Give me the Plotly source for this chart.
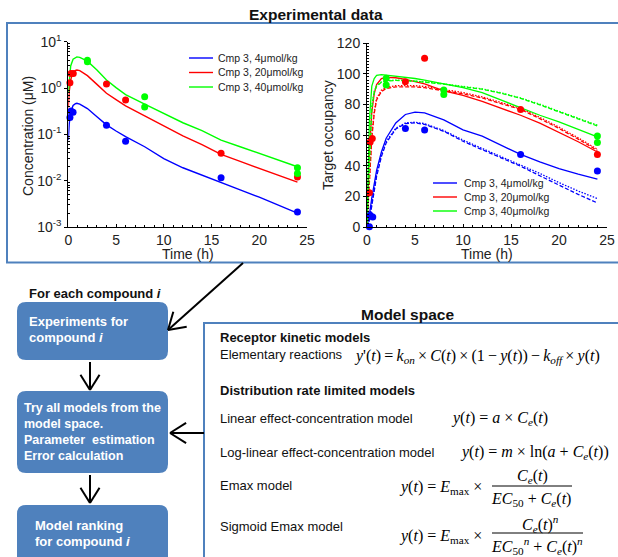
import plotly.graph_objects as go
import math

W, H = 618, 557

# ---------------- data ----------------
doses = ["Cmp 3, 4\u03bcmol/kg", "Cmp 3, 20\u03bcmol/kg", "Cmp 3, 40\u03bcmol/kg"]
colors = ["#0000ff", "#ff0000", "#00ff00"]

# Concentration observations
conc_obs_t_4 = [0.17, 0.28, 0.5, 4, 6, 16, 24]
conc_obs_4 = [0.23, 0.32, 0.30, 0.158, 0.071, 0.0115, 0.0021]
conc_obs_t_20 = [0.17, 0.28, 0.52, 4, 6, 16, 24]
conc_obs_20 = [1.3, 2.07, 2.07, 1.22, 0.55, 0.039, 0.012]
conc_obs_t_40 = [2, 2, 8, 8, 24, 24]
conc_obs_40 = [4.0, 3.7, 0.65, 0.39, 0.019, 0.0142]

# Concentration model fits
conc_fit_t = [0, 0.1, 0.25, 0.5, 0.75, 0.9, 1.2, 1.5, 2, 3, 4, 5, 6, 8, 10, 12, 14, 16, 18, 20, 22, 24]
conc_fit_4 = [0.075, 0.17, 0.30, 0.42, 0.46, 0.47, 0.45, 0.42, 0.36, 0.24, 0.16, 0.118, 0.089,
              0.054, 0.030, 0.019, 0.013, 0.0092, 0.0063, 0.0044, 0.003, 0.002]
conc_fit_20 = [0.38, 0.85, 1.5, 2.2, 2.4, 2.45, 2.38, 2.2, 1.85, 1.2, 0.77, 0.56, 0.41,
               0.25, 0.153, 0.093, 0.060, 0.037, 0.026, 0.0185, 0.0131, 0.0093]
conc_fit_40 = [0.8, 1.7, 3.0, 4.2, 4.6, 4.7, 4.6, 4.3, 3.8, 2.45, 1.49, 1.02, 0.72,
               0.45, 0.283, 0.178, 0.12, 0.075, 0.054, 0.0386, 0.0277, 0.020]

# Target occupancy observations
occ_obs_t_4 = [0.25, 0.33, 0.6, 4, 6, 16, 24]
occ_obs_4 = [0.2, 7.7, 6.5, 64.4, 63.3, 47.4, 36.5]
occ_obs_t_20 = [0.25, 0.33, 0.55, 4, 6, 16, 24]
occ_obs_20 = [22.3, 55.6, 57.8, 94.9, 110.2, 76.8, 47.4]
occ_obs_t_40 = [2, 2, 8, 8, 24, 24]
occ_obs_40 = [97.1, 92.7, 89.5, 86.6, 59.4, 55.2]

# Target occupancy model fits (solid / dashed / dotted)
occ_fit_t = [0, 0.25, 0.5, 0.75, 1, 1.5, 2, 3, 4, 5, 6, 8, 10, 12, 14, 16, 18, 20, 22, 24]
occ_solid_4 = [0, 8, 19, 29, 37, 49, 58, 68, 73.5, 75, 74.5, 70, 63.5, 59.3, 53.3, 47.4, 42.6, 38.2, 34.5, 31.2]
occ_dash_4 = [0, 4, 14, 24, 33, 46, 55, 64, 67.5, 68, 67, 62.5, 56, 50.5, 45, 39.7, 33.5, 27.3, 21.3, 15.7]
occ_dot_4 = [0, 4.5, 15, 25, 34, 47, 56, 64.5, 68, 68.5, 67.5, 63, 56.8, 51.3, 46, 40.8, 35, 29, 23.5, 18.6]
occ_solid_20 = [0, 50, 75, 87, 93, 97, 97.8, 97.5, 96.5, 95, 93.5, 89, 86, 82, 77.7, 73, 67.8, 62, 55.7, 49]
occ_dash_20 = [0, 30, 58, 74, 83, 88.5, 90.5, 91.5, 91.7, 91.5, 91, 89, 87, 84.3, 80.8, 76.8, 70.8, 64.4, 57.4, 50]
occ_dot_20 = [0, 32, 60, 75.5, 84, 89.3, 91.3, 92.3, 92.5, 92.3, 91.8, 89.8, 87.8, 85, 81.5, 77.5, 71.6, 65.2, 58.2, 50.8]
occ_solid_40 = [0, 70, 92, 97, 99, 99.5, 99.2, 98.6, 97.8, 97, 96, 93.5, 91, 87.8, 82.8, 77.5, 73, 68.7, 63.8, 58.9]
occ_dash_40 = [0, 45, 78, 88, 92, 94.5, 95.3, 95.8, 95.6, 95.2, 94.6, 93.3, 91.5, 90, 87.3, 84, 79.8, 75.3, 70.8, 66]
occ_dot_40 = [0, 47, 79, 88.5, 92.3, 94.8, 95.5, 96, 95.8, 95.4, 94.8, 93.5, 91.7, 90.2, 87.6, 84.3, 80.2, 75.7, 71.2, 66.5]

conc_ticks = [0.001, 0.01, 0.1, 1, 10]
conc_ticktext = ["10<sup>-3</sup>", "10<sup>-2</sup>", "10<sup>-1</sup>", "10<sup>0</sup>", "10<sup>1</sup>"]


# ---------------- helpers ----------------
def px(x):
    return x / W


def py(y):
    return 1 - y / H


fig = go.Figure()

conc_obs = [(conc_obs_t_4, conc_obs_4), (conc_obs_t_20, conc_obs_20), (conc_obs_t_40, conc_obs_40)]
conc_fit = [conc_fit_4, conc_fit_20, conc_fit_40]
for i in range(3):
    fig.add_trace(go.Scatter(x=conc_fit_t, y=conc_fit[i], mode="lines",
                             line=dict(color=colors[i], width=1.4), xaxis="x", yaxis="y",
                             cliponaxis=False))
for i in range(3):
    fig.add_trace(go.Scatter(x=conc_obs[i][0], y=conc_obs[i][1], mode="markers",
                             marker=dict(color=colors[i], size=7), xaxis="x", yaxis="y",
                             cliponaxis=False))

occ_fits = [(occ_solid_4, occ_dash_4, occ_dot_4), (occ_solid_20, occ_dash_20, occ_dot_20),
            (occ_solid_40, occ_dash_40, occ_dot_40)]
occ_obs = [(occ_obs_t_4, occ_obs_4), (occ_obs_t_20, occ_obs_20), (occ_obs_t_40, occ_obs_40)]
for i in range(3):
    for ys, dash in zip(occ_fits[i], ["solid", "4px,2px", "1.5px,1.5px"]):
        fig.add_trace(go.Scatter(x=occ_fit_t, y=ys, mode="lines",
                                 line=dict(color=colors[i], width=1.3, dash=dash),
                                 xaxis="x2", yaxis="y2", cliponaxis=False))
for i in range(3):
    fig.add_trace(go.Scatter(x=occ_obs[i][0], y=occ_obs[i][1], mode="markers",
                             marker=dict(color=colors[i], size=7), xaxis="x2", yaxis="y2",
                             cliponaxis=False))

tickfont = dict(family="Arial, Liberation Sans", size=14, color="#222")
axis_common = dict(showline=True, linecolor="black", linewidth=1, showgrid=False, zeroline=False,
                   ticklen=3, tickcolor="black", tickfont=tickfont, automargin=False)

minor_log = [m * 10 ** e for e in range(-3, 1) for m in range(2, 10)]

fig.update_layout(
    width=W, height=H, margin=dict(l=0, r=0, t=0, b=0, pad=0, autoexpand=False),
    paper_bgcolor="white", plot_bgcolor="white", showlegend=False,
    xaxis=dict(domain=[px(68.3), px(307)], range=[0, 25], anchor="y", dtick=5, ticks="inside",
               minor=dict(dtick=1, ticks="inside", ticklen=2, tickcolor="black"), **axis_common),
    yaxis=dict(domain=[py(227), py(41.7)], type="log", range=[-3, 1], anchor="x", ticks="outside",
               tickmode="array", tickvals=conc_ticks, ticktext=conc_ticktext,
               minor=dict(tickmode="array", tickvals=minor_log, ticks="inside", ticklen=2,
                          tickcolor="black"), **axis_common),
    xaxis2=dict(domain=[px(367), px(607)], range=[0, 25], anchor="y2", dtick=5, ticks="inside",
                minor=dict(dtick=1, ticks="inside", ticklen=2, tickcolor="black"), **axis_common),
    yaxis2=dict(domain=[py(227), py(43.3)], range=[0, 120], anchor="x2", dtick=20, ticks="outside",
                minor=dict(dtick=2, ticks="inside", ticklen=2, tickcolor="black"), **axis_common),
)

shapes = []
ann = []
BLUE = "#4f81bd"


def text(x, y, s, size=13, bold=False, color="#111", family="Arial, Liberation Sans",
         xanchor="left", angle=0):
    ann.append(dict(x=px(x), y=py(y), xref="paper", yref="paper", text=s, showarrow=False,
                    xanchor=xanchor, yanchor="middle", textangle=angle,
                    font=dict(size=size, color=color, family=family)))


def line(x0, y0, x1, y1, color="black", width=2):
    shapes.append(dict(type="line", xref="paper", yref="paper", x0=px(x0), y0=py(y0),
                       x1=px(x1), y1=py(y1), line=dict(color=color, width=width)))


def arrow(x0, y0, x1, y1, head=19, ang=32):
    line(x0, y0, x1, y1)
    d = math.atan2(y0 - y1, x0 - x1)
    for s in (-1, 1):
        a = d + s * math.radians(ang)
        line(x1, y1, x1 + head * math.cos(a), y1 + head * math.sin(a))


def rrect(x0, y0, x1, y1, r, fill):
    p = (f"M {px(x0 + r)},{py(y0)} L {px(x1 - r)},{py(y0)} Q {px(x1)},{py(y0)} {px(x1)},{py(y0 + r)} "
         f"L {px(x1)},{py(y1 - r)} Q {px(x1)},{py(y1)} {px(x1 - r)},{py(y1)} "
         f"L {px(x0 + r)},{py(y1)} Q {px(x0)},{py(y1)} {px(x0)},{py(y1 - r)} "
         f"L {px(x0)},{py(y0 + r)} Q {px(x0)},{py(y0)} {px(x0 + r)},{py(y0)} Z")
    shapes.append(dict(type="path", xref="paper", yref="paper", path=p, fillcolor=fill,
                       line=dict(width=0), layer="below"))


# frames
shapes.append(dict(type="rect", xref="paper", yref="paper", x0=px(7), y0=py(23), x1=px(630), y1=py(262.5),
                   line=dict(color=BLUE, width=2), layer="below"))
shapes.append(dict(type="rect", xref="paper", yref="paper", x0=px(204), y0=py(323), x1=px(630), y1=py(575),
                   line=dict(color=BLUE, width=2), layer="below"))

# titles
text(316, 15, "<b>Experimental data</b>", size=15.5, xanchor="center")
text(407, 314, "<b>Model space</b>", size=15.5, xanchor="center")

# axis titles
text(188, 254, "Time (h)", size=14, xanchor="center", color="#222")
text(487, 254, "Time (h)", size=14, xanchor="center", color="#222")
text(28, 136, "Concentration (\u03bcM)", size=14, xanchor="center", angle=-90, color="#222")
text(328, 135, "Target occupancy", size=14, xanchor="center", angle=-90, color="#222")

# legends
for i in range(3):
    y = 58 + 14.5 * i
    line(189, y, 213, y, color=colors[i], width=1.4)
    text(216, y, doses[i], size=10.5, color="#222")
    y2 = 183 + 14 * i
    line(433, y2, 457, y2, color=colors[i], width=1.4)
    text(462, y2, doses[i], size=10.5, color="#222")

# flowchart
text(27, 293, "<b>For each compound <i>i</i></b>", size=13)
rrect(17, 302, 168, 360, 9, BLUE)
rrect(17, 391, 168, 473, 9, BLUE)
rrect(17, 505, 168, 580, 9, BLUE)
text(27, 321, "<b>Experiments for</b>", size=13, color="white")
text(27, 337, "<b>compound <i>i</i></b>", size=13, color="white")
for k, s in enumerate(["Try all models from the", "model space.", "Parameter\u00a0 estimation",
                       "Error calculation"]):
    text(22, 408 + 16 * k, f"<b>{s}</b>", size=12.5, color="white")
text(33, 525, "<b>Model ranking</b>", size=13, color="white")
text(33, 541, "<b>for compound <i>i</i></b>", size=13, color="white")

arrow(243, 263, 168, 330)
arrow(90, 362, 90, 390, head=18)
arrow(90, 475, 90, 503, head=18)
arrow(204, 433, 170, 433, head=19)

# model space texts
text(218, 337, "<b>Receptor kinetic models</b>", size=13)
text(218, 354, "Elementary reactions", size=13)
text(218, 390, "<b>Distribution rate limited models</b>", size=13)
text(218, 418, "Linear effect-concentration model", size=13)
text(218, 452, "Log-linear effect-concentration model", size=13)
text(218, 485, "Emax model", size=13)
text(218, 526, "Sigmoid Emax model", size=13)

SERIF = "Liberation Serif, Times New Roman, serif"
FS = 16
text(352, 356, "<i>y</i>'(<i>t</i>)\u2009=\u2009<i>k</i><sub><i>on</i></sub>\u2009\u00d7\u2009<i>C</i>(<i>t</i>)\u2009\u00d7\u2009(1\u2009\u2212\u2009<i>y</i>(<i>t</i>))"
               "\u2009\u2212\u2009<i>k</i><sub><i>off</i></sub>\u2009\u00d7\u2009<i>y</i>(<i>t</i>)", size=FS, family=SERIF, color="#000")
text(449, 418, "<i>y</i>(<i>t</i>) = <i>a</i> \u00d7 <i>C<sub>e</sub></i>(<i>t</i>)", size=FS, family=SERIF, color="#000")
text(458, 452, "<i>y</i>(<i>t</i>) = <i>m</i> \u00d7 ln(<i>a</i> + <i>C<sub>e</sub></i>(<i>t</i>))", size=FS,
     family=SERIF, color="#000")
# Emax
text(397, 487, "<i>y</i>(<i>t</i>) = <i>E</i><sub>max</sub> \u00d7", size=FS, family=SERIF, color="#000")
text(532, 476, "<i>C<sub>e</sub></i>(<i>t</i>)", size=FS, family=SERIF, color="#000", xanchor="center")
line(492, 486, 572, 486, width=1)
text(531, 499, "<i>EC</i><sub>50</sub> + <i>C<sub>e</sub></i>(<i>t</i>)", size=FS, family=SERIF, color="#000",
     xanchor="center")
# Sigmoid Emax
text(397, 536, "<i>y</i>(<i>t</i>) = <i>E</i><sub>max</sub> \u00d7", size=FS, family=SERIF, color="#000")
text(540, 524, "<i>C<sub>e</sub></i>(<i>t</i>)<sup><i>n</i></sup>", size=FS, family=SERIF, color="#000",
     xanchor="center")
line(492, 533, 583, 533, width=1)
text(537, 546, "<i>EC</i><sub>50</sub><sup><i>n</i></sup> + <i>C<sub>e</sub></i>(<i>t</i>)<sup><i>n</i></sup>", size=FS,
     family=SERIF, color="#000", xanchor="center")

fig.update_layout(shapes=shapes, annotations=ann)
fig.write_html("out.html", config={"displayModeBar": False},
               post_script="document.body.style.margin='0';document.body.style.overflow='hidden';")
